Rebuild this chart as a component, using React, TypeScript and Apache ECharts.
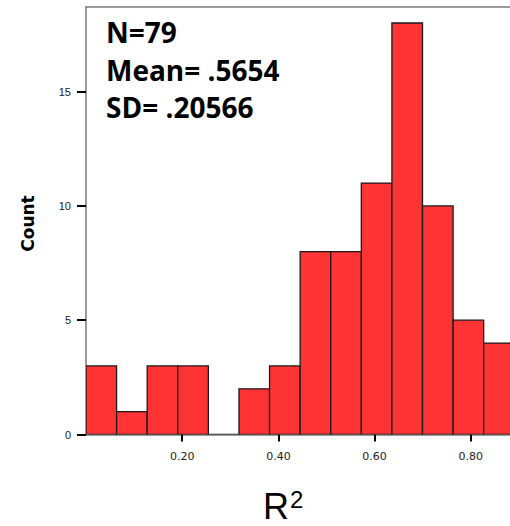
import React, { useEffect, useRef } from "react";
import * as echarts from "echarts";

const binStart = 0;
const binWidth = 0.0636;
const counts = [3, 1, 3, 3, 0, 2, 3, 8, 8, 11, 18, 10, 5, 4];
const xTicks = [0.2, 0.4, 0.6, 0.8];
const yTicks = [0, 5, 10, 15];
const statLines = ["N=79", "Mean= .5654", "SD= .20566"];

export default function App() {
  const ref = useRef<HTMLDivElement>(null);
  useEffect(() => {
    if (!ref.current) return;
    const chart = echarts.init(ref.current, undefined, { renderer: "svg" });
    const data = counts.map((c, i) => [binStart + i * binWidth, binStart + (i + 1) * binWidth, c]);
    const xMax = 0.8815;
    chart.setOption({
      animation: false,
      grid: { left: 86, top: 7, right: 0, bottom: 91.5, containLabel: false },
      xAxis: [
        {
          type: "value",
          min: 0,
          max: xMax,
          axisLine: { show: true, lineStyle: { color: "#7a7a7a", width: 1.5 } },
          axisTick: { show: true, customValues: xTicks, length: 7, lineStyle: { color: "#000", width: 2 } },
          axisLabel: {
            customValues: xTicks,
            formatter: (v: number) => v.toFixed(2),
            margin: 16,
            fontSize: 11,
            fontFamily: "DejaVu Sans",
            color: "#222",
          },
          splitLine: { show: false },
        },
        {
          type: "value",
          position: "top",
          min: 0,
          max: xMax,
          axisLine: { show: true, onZero: false, lineStyle: { color: "#7a7a7a", width: 1.5 } },
          axisTick: { show: false },
          axisLabel: { show: false },
          splitLine: { show: false },
        },
      ],
      yAxis: {
        type: "value",
        min: 0,
        max: 18.7,
        axisLine: { show: true, lineStyle: { color: "#7a7a7a", width: 1.5 } },
        axisTick: { show: true, customValues: yTicks, length: 9, lineStyle: { color: "#000", width: 2 } },
        axisLabel: {
          customValues: yTicks,
          margin: 15,
          fontSize: 11,
          fontFamily: "Liberation Sans",
          color: "#222",
        },
        splitLine: { show: false },
      },
      series: [
        {
          type: "custom",
          clip: true,
          xAxisIndex: 0,
          data,
          renderItem: (params: any, api: any) => {
            const p0 = api.coord([api.value(0), api.value(2)]);
            const p1 = api.coord([api.value(1), 0]);
            return {
              type: "rect",
              shape: { x: p0[0], y: p0[1], width: p1[0] - p0[0], height: p1[1] - p0[1] },
              style: { fill: "#fe3334", stroke: "#1a1a1a", lineWidth: 1.3 },
            };
          },
        },
      ],
      graphic: [
        ...statLines.map((t, i) => ({
          type: "text",
          x: 106,
          y: 32.4 + i * 37.3,
          style: {
            text: t,
            fontSize: 28,
            fontWeight: "bold",
            fontFamily: "Open Sans",
            fill: "#000",
            verticalAlign: "middle",
            align: "left",
          },
        })),
        {
          type: "text",
          x: 27.5,
          y: 223.5,
          rotation: Math.PI / 2,
          style: {
            text: "Count",
            fontSize: 17,
            fontWeight: "bold",
            fontFamily: "DejaVu Sans",
            fill: "#000",
            align: "center",
            verticalAlign: "middle",
          },
        },
        {
          type: "text",
          x: 263,
          y: 506,
          style: {
            text: "R",
            fontSize: 36,
            fontFamily: "Liberation Sans",
            fill: "#000",
            align: "left",
            verticalAlign: "middle",
          },
        },
        {
          type: "text",
          x: 290,
          y: 499.5,
          style: {
            text: "2",
            fontSize: 24,
            fontFamily: "Liberation Sans",
            fill: "#000",
            align: "left",
            verticalAlign: "middle",
          },
        },
      ],
    });
    return () => chart.dispose();
  }, []);
  return (
    <div
      ref={ref}
      style={{ position: "fixed", left: 0, top: 0, width: 510, height: 526, background: "#fff" }}
    />
  );
}
